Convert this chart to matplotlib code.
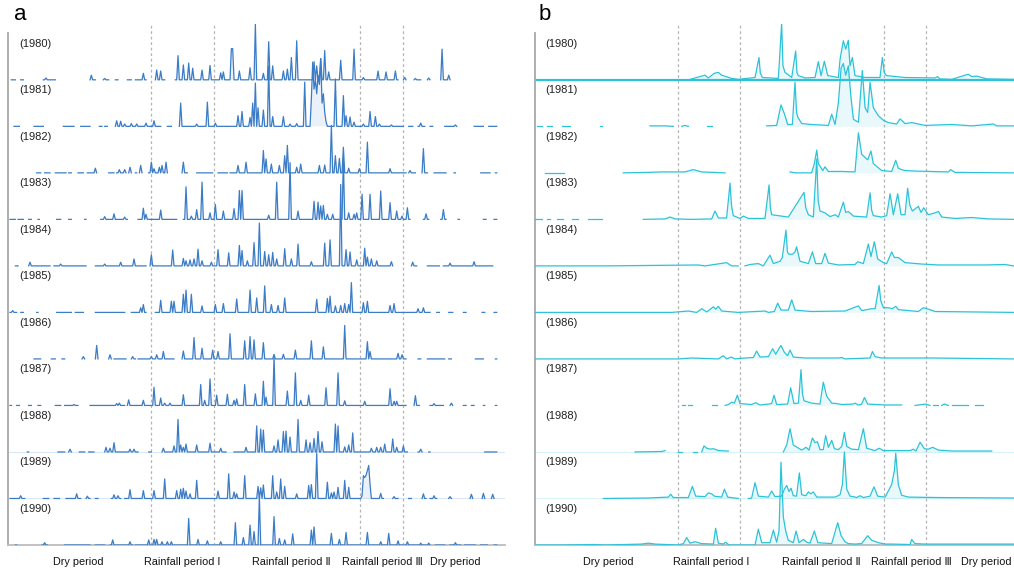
import numpy as np
import matplotlib.pyplot as plt

plt.rcParams['font.family'] = ['Liberation Sans', 'DejaVu Sans']

years = [1980, 1981, 1982, 1983, 1984, 1985, 1986, 1987, 1988, 1989, 1990]
period_names = ['Dry period', 'Rainfall period I', 'Rainfall period Ⅱ',
                'Rainfall period Ⅲ', 'Dry period']
period_bounds = [105.5, 153, 262.5, 294.5]   # day of year of the separators

# ---- panel a: daily rainfall, (start, end) of drawn stretches and (day, value) peaks
rain_wet_1980 = [(1, 4), (7.5, 10), (25, 34), (60, 64), (70, 74), (79, 81.5), (88, 91), (94, 102.5),
                 (108.5, 116), (123.5, 291), (295, 297.5), (302.5, 308.5), (312.5, 315), (322.5, 330)]
rain_peaks_1980 = [(27, 0.04), (61, 0.1), (71, 0.03), (100.5, 0.14), (110, 0.21), (113, 0.19), (125.5, 0.52),
                   (129.5, 0.32), (134, 0.36), (137, 0.25), (144, 0.21), (150.5, 0.31), (157.5, 0.15),
                   (160.5, 0.17), (166, 0.67), (167, 0.67), (172.5, 0.19), (180, 0.26), (184, 1.2),
                   (190, 0.14), (194, 0.82), (197, 0.3), (205, 0.19), (208, 0.23), (211, 0.48), (215, 0.84),
                   (227.5, 0.39), (230, 0.3), (233, 0.46), (235.5, 0.63), (239, 0.17), (247.5, 0.42),
                   (258, 0.66), (265, 0.05), (276, 0.19), (282.5, 0.17), (289, 0.19), (296, 0.05),
                   (304, 0.03), (314, 0.04), (324.5, 0.66), (329, 0.1)]

rain_wet_1981 = [(2.5, 7.5), (17.5, 25), (40, 48.5), (52.5, 60), (67, 69), (71, 73.5), (78.5, 113.5),
                 (117.5, 121), (127.5, 295), (298.5, 302.5), (306, 311), (315, 317.5), (326, 335),
                 (347.5, 355), (358.5, 365)]
rain_peaks_1981 = [(80, 0.12), (83, 0.11), (86, 0.05), (91, 0.06), (95, 0.05), (102.5, 0.07), (108, 0.12),
                   (128.5, 0.5), (140, 0.05), (147.5, 0.52), (153.5, 0.07), (171, 0.23), (173.5, 0.32),
                   (179.5, 0.19), (182, 0.5), (184, 0.93), (186, 0.4), (190.5, 0.35), (193.5, 1.3),
                   (197, 0.21), (205, 0.21), (210, 0.05), (215, 0.06), (221, 0.95), (226, 0.6), (227, 1.38),
                   (228, 0.8), (229, 1.0), (230, 0.7), (231, 1.1), (232, 0.9), (233, 1.45), (234, 0.5),
                   (235, 0.7), (236, 0.3), (237, 0.1), (244.5, 1.02), (249.5, 0.66), (252.5, 0.23),
                   (255, 0.2), (257.5, 0.09), (265, 0.05), (270.5, 0.32), (273.5, 0.21), (277, 0.05),
                   (286, 0.03), (308.5, 0.07), (333.5, 0.03)]

rain_wet_1982 = [(20, 23.5), (26, 30), (33.5, 42.5), (43.5, 46), (51, 55), (58, 65), (73.5, 78.5),
                 (80, 87.5), (89.5, 91), (94, 95.5), (97.5, 99.5), (103.5, 117.5), (128.5, 133),
                 (140, 152), (156, 163), (165, 297.5), (300, 304), (308.5, 313.5), (317.5, 327.5),
                 (332.5, 334), (352.5, 360), (364, 365.5)]
rain_peaks_1982 = [(63.5, 0.1), (82.5, 0.07), (86, 0.07), (90, 0.12), (98, 0.16), (105.5, 0.23),
                   (108, 0.09), (112, 0.12), (114.5, 0.16), (117, 0.23), (130, 0.23), (171, 0.16),
                   (177, 0.23), (190, 0.48), (192.5, 0.3), (195.5, 0.19), (202, 0.16), (206, 0.37),
                   (208.5, 0.59), (215, 0.12), (218.5, 0.19), (232.5, 0.16), (236, 0.17), (241, 1.02),
                   (243.5, 0.37), (247, 0.31), (250.5, 0.55), (253.5, 0.1), (262.5, 0.09), (268.5, 0.66),
                   (285, 0.09), (300, 0.05), (310, 0.52)]

rain_wet_1983 = [(0, 4), (6, 10), (14, 16), (20.5, 22.5), (34.5, 38), (44, 46), (55.5, 57.5), (67.5, 88.5),
                 (96, 125), (130, 300), (310, 314), (322.5, 327.5), (335.5, 337.5), (355, 357.5),
                 (362.5, 365)]
rain_peaks_1983 = [(71, 0.06), (78.5, 0.12), (86, 0.05), (99.5, 0.24), (102.5, 0.11), (113, 0.2),
                   (132.5, 0.7), (136, 0.07), (140.5, 0.21), (143.5, 0.8), (150.5, 0.14), (153.5, 0.32),
                   (160.5, 0.18), (168.5, 0.23), (172, 0.62), (174, 0.62), (193.5, 0.09), (199.5, 0.8),
                   (209.5, 1.22), (216, 0.18), (228.5, 0.39), (231, 0.37), (233, 0.29), (235, 0.3),
                   (238.5, 0.11), (242.5, 0.11), (249.5, 1.3), (253.5, 0.14), (257.5, 0.11), (260, 0.14),
                   (263.5, 0.54), (269.5, 0.54), (277.5, 0.61), (285, 0.36), (290, 0.18), (293.5, 0.07),
                   (298, 0.25), (312, 0.12), (325, 0.21)]

rain_wet_1984 = [(4, 6), (13.5, 30), (32.5, 57.5), (63.5, 102.5), (105, 287.5), (301, 305),
                 (312.5, 322.5), (325, 362.5)]
rain_peaks_1984 = [(15, 0.08), (37.5, 0.04), (71, 0.04), (83, 0.08), (93, 0.15), (106, 0.24),
                   (121.5, 0.34), (130.5, 0.16), (132.5, 0.11), (135, 0.13), (137.5, 0.15), (141, 0.36),
                   (143.5, 0.11), (151, 0.08), (156.5, 0.35), (164, 0.28), (172.5, 0.44), (174.5, 0.33),
                   (177.5, 0.11), (183, 0.5), (187, 0.92), (191, 0.31), (193.5, 0.24), (197, 0.29),
                   (200.5, 0.15), (206, 0.37), (211, 0.15), (215.5, 0.47), (226, 0.09), (236, 0.49),
                   (239.5, 0.56), (248, 1.75), (252.5, 0.35), (255, 0.3), (260, 0.13), (265.5, 0.38),
                   (268.5, 0.19), (271, 0.15), (275, 0.11), (286, 0.09), (302.5, 0.08), (330, 0.06),
                   (348.5, 0.09)]

rain_wet_1985 = [(0, 5), (8, 10), (19.5, 21.5), (35, 46), (48.5, 55), (63.5, 86), (91, 102.5),
                 (108.5, 315), (320, 322.5), (328.5, 332.5), (340, 342.5), (353.5, 356), (362.5, 365)]
rain_peaks_1985 = [(2.5, 0.04), (97.5, 0.1), (100.5, 0.17), (113, 0.26), (121, 0.24), (123, 0.24),
                   (129.5, 0.39), (132.5, 0.48), (135.5, 0.39), (144.5, 0.14), (154.5, 0.17),
                   (160.5, 0.19), (170.5, 0.29), (180.5, 0.48), (185, 0.31), (191, 0.57), (196, 0.17),
                   (201, 0.15), (206, 0.31), (230.5, 0.28), (238, 0.3), (240.5, 0.35), (243.5, 0.14),
                   (247.5, 0.15), (251, 0.19), (253.5, 0.17), (256.5, 0.64), (265, 0.21), (268.5, 0.24),
                   (285, 0.15), (288, 0.19), (306, 0.08), (310, 0.1)]

rain_wet_1986 = [(17.5, 23.5), (31, 34), (38.5, 41), (53.5, 56), (63.5, 66), (73.5, 76), (77.5, 87.5),
                 (91, 94), (96, 123.5), (128.5, 297.5), (306, 308.5), (312.5, 326), (328.5, 331),
                 (348.5, 355), (363.5, 365)]
rain_peaks_1986 = [(55, 0.05), (65, 0.29), (75, 0.09), (92.5, 0.05), (106, 0.05), (110, 0.09), (115, 0.16),
                   (130.5, 0.17), (138.5, 0.46), (143.5, 0.23), (152.5, 0.19), (156, 0.16), (165, 0.54),
                   (176, 0.39), (180.5, 0.48), (183, 0.41), (190, 0.35), (198, 0.1), (205, 0.1),
                   (213.5, 0.19), (226, 0.39), (235, 0.26), (251, 0.72), (267.5, 0.37), (270, 0.16),
                   (291, 0.12), (293.5, 0.09)]

rain_wet_1987 = [(0, 1.5), (5, 7.5), (13.5, 16), (21, 23.5), (33.5, 38.5), (41, 51), (60, 86),
                 (88.5, 297.5), (302.5, 307.5), (315, 325), (330, 332.5), (340, 342), (346, 348),
                 (354.5, 356.5), (363.5, 365)]
rain_peaks_1987 = [(47.5, 0.02), (79.5, 0.04), (82.5, 0.05), (89, 0.12), (100, 0.11), (108.5, 0.39),
                   (113, 0.16), (116, 0.05), (120, 0.05), (130.5, 0.23), (143, 0.45), (145.5, 0.11),
                   (150.5, 0.57), (155, 0.22), (163, 0.24), (168.5, 0.11), (170.5, 0.14), (176.5, 0.45),
                   (184.5, 0.25), (190, 0.52), (192.5, 0.18), (198, 1.05), (207.5, 0.31), (214, 0.7),
                   (217.5, 0.11), (223.5, 0.22), (237, 0.38), (245.5, 0.7), (251, 0.1), (266, 0.09),
                   (285, 0.36), (288.5, 0.09), (290.5, 0.09), (303.5, 0.21), (317.5, 0.04), (331, 0.05)]

rain_wet_1988 = [(12.5, 14.5), (36, 41), (44, 46), (52, 56), (58.5, 63.5), (71, 96), (104, 106),
                 (113.5, 162.5), (167.5, 298.5), (306, 308.5), (313.5, 315.5), (356, 365)]
rain_peaks_1988 = [(45, 0.06), (72.5, 0.1), (75, 0.08), (78.5, 0.2), (90, 0.06), (93, 0.06), (115, 0.08),
                   (123, 0.13), (125.5, 0.7), (127.5, 0.15), (130, 0.1), (132.5, 0.17), (140, 0.15),
                   (149.5, 0.19), (158.5, 0.08), (177, 0.1), (185, 0.56), (188, 0.49), (190, 0.47),
                   (198.5, 0.13), (201, 0.26), (205, 0.44), (207, 0.45), (209.5, 0.32), (216, 0.7),
                   (222, 0.26), (225, 0.2), (227.5, 0.29), (231, 0.44), (233.5, 0.22), (244.5, 0.6),
                   (246, 0.56), (251, 0.11), (253.5, 0.15), (257, 0.41), (271, 0.08), (275, 0.1),
                   (278.5, 0.1), (281, 0.17), (287, 0.28), (290, 0.1), (295, 0.13), (307.5, 0.06)]

rain_wet_1989 = [(0, 11), (24.5, 29.5), (33, 37), (42, 53.5), (57.5, 60.5), (63.5, 66), (76, 83.5),
                 (86, 88.5), (89.5, 280), (287.5, 291), (298.5, 301), (308.5, 312.5), (315, 320),
                 (328.5, 331), (345, 347.5), (353.5, 356), (361, 363.5)]
rain_peaks_1989 = [(7.5, 0.06), (50, 0.1), (58.5, 0.05), (78.5, 0.08), (81, 0.06), (90.5, 0.19),
                   (100, 0.17), (108.5, 0.17), (115.5, 0.42), (125, 0.17), (127.5, 0.2), (130, 0.22),
                   (132.5, 0.16), (135, 0.1), (139.5, 0.39), (156, 0.16), (163.5, 0.53), (167.5, 0.14),
                   (170.5, 0.1), (176, 0.49), (185.5, 0.26), (187.5, 0.23), (190.5, 0.29), (197, 0.49),
                   (199.5, 0.14), (203, 0.42), (206, 0.26), (215, 0.1), (223.5, 0.28), (226, 0.3),
                   (230, 0.97), (237.5, 0.35), (241, 0.12), (243, 0.14), (246, 0.24), (251, 0.39),
                   (253.5, 0.24), (263.5, 0.06), (265, 0.49), (266, 0.45), (267, 0.5), (268, 0.6),
                   (269, 0.71), (270, 0.3), (277.5, 0.11), (288.5, 0.04), (310.5, 0.1), (318.5, 0.06),
                   (330, 0.04), (346, 0.09), (355, 0.11), (362.5, 0.09)]

rain_wet_1990 = [(3.5, 5.5), (23.5, 28.5), (41, 60), (63.5, 71), (75, 92.5), (93.5, 306), (307.5, 315),
                 (318.5, 326), (330, 338.5), (341, 349), (352.5, 358.5), (362.5, 365)]
rain_peaks_1990 = [(26, 0.05), (77, 0.11), (90, 0.07), (103.5, 0.11), (107.5, 0.12), (110.5, 0.12),
                   (113.5, 0.07), (117.5, 0.07), (121, 0.07), (133.5, 0.57), (141, 0.12), (148, 0.09),
                   (157.5, 0.07), (169, 0.48), (175, 0.16), (180, 0.43), (183, 0.29), (187, 1.05),
                   (198, 0.61), (202.5, 0.14), (206, 0.11), (212, 0.24), (225.5, 0.32), (228, 0.39),
                   (241, 0.25), (247, 0.12), (252.5, 0.27), (267.5, 0.27), (277.5, 0.07), (283.5, 0.25),
                   (291, 0.09), (297.5, 0.07), (308.5, 0.04), (313.5, 0.04), (333.5, 0.05)]

# ---- panel b: discharge, stretches of (day, value) readings
flow_1980 = [[(-3.7, 0), (113.4, 0), (116, 0.02), (126.1, 0.1), (128.6, 0.04), (133.2, 0.14), (136.3, 0.16),
              (138.8, 0.1), (146.5, 0.03), (151.5, 0.01), (164.3, 0.05), (167.3, 0.48), (168.3, 0.15),
              (169.9, 0.05), (182.1, 0.03), (184.6, 1.21), (185.6, 0.3), (187.2, 0.16), (192.3, 0.05),
              (195.3, 0.62), (196.3, 0.15), (197.4, 0.09), (202.5, 0.04), (210.1, 0.05), (212.6, 0.39),
              (214.7, 0.09), (217.2, 0.4), (219.8, 0.09), (227.9, 0.05), (229.2, 0.44), (231.7, 0.84),
              (233.5, 0.66), (235.5, 0.85), (236.8, 0.3), (238.6, 0.48), (240.6, 0.09), (248.3, 0.05),
              (259.7, 0.05), (261.5, 0.48), (263, 0.15), (264.8, 0.09), (278.8, 0.05), (301.7, 0.04),
              (303.5, 0.07), (305.5, 0.02), (314.4, 0.01), (327.1, 0.12), (329.7, 0.07), (333.5, 0.08),
              (341.2, 0.02), (361.5, 0.01)]]

flow_1981 = [[(-2.4, 0), (1.4, 0)], [(5.2, 0), (9, 0)], [(16.7, 0), (23, 0)], [(45.9, 0), (47.2, 0)],
             [(84.1, 0.01), (95.9, 0.01), (101.9, 0)], [(108.3, 0), (110.5, 0.02), (113.4, 0)],
             [(127.4, 0), (131.2, 0)],
             [(173.2, 0.01), (180.8, 0.02), (184.1, 0.46), (186.7, 0.27), (189.2, 0.04), (192.8, 0.04),
              (194.8, 0.95), (196, 0.3), (196.9, 0.2), (199.9, 0.06), (207.5, 0.04), (220.3, 0.02),
              (222.8, 0.26), (225.4, 0.04), (227.9, 0.5), (230, 1.25), (231.7, 1.35), (233.5, 1.1),
              (235.5, 1.3), (237.6, 0.6), (239.4, 0.15), (243.2, 0.09), (246.2, 1.2), (248.3, 0.4),
              (250.3, 0.3), (252.1, 0.95), (254.6, 0.4), (258.4, 0.23), (262.3, 0.13), (266.1, 0.08),
              (272.4, 0.05), (275, 0.16), (278.8, 0.06), (283.9, 0.08), (294.1, 0.02), (314.4, 0.04),
              (329.7, 0.01), (346.2, 0.05), (348.8, 0.01), (361.5, 0.01)]]

flow_1982 = [[(3.9, 0), (18.7, 0)],
             [(63.7, 0), (82.8, 0.01), (92.9, 0.02), (110.8, 0.02), (117.2, 0.07), (123.6, 0.02),
              (141.4, 0)],
             [(191, 0.02), (194.8, 0), (207.5, 0), (209.6, 0.2), (211.4, 0.49), (212.6, 0.2),
              (216, 0.05), (217.7, 0.13), (220.3, 0.03), (230.5, 0.03), (240.6, 0.02), (243.2, 0.86),
              (245.7, 0.4), (248.3, 0.33), (250.3, 0.28), (252.8, 0.47), (254.6, 0.2), (261, 0.05),
              (268.6, 0.03), (271.7, 0.27), (273.7, 0.1), (276.2, 0.07), (278.8, 0.05), (285.2, 0.04),
              (311.9, 0.02), (313.6, 0.07), (317, 0.01), (361.5, 0)]]

flow_1983 = [[(-3.7, 0), (1.4, 0)], [(5.2, 0), (7.8, 0)], [(12.9, 0), (18, 0)], [(24.3, 0), (29.4, 0)],
             [(37, 0), (47.2, 0)],
             [(79, 0), (95.6, 0.01), (99.4, 0.05), (103.2, 0.01), (115.9, 0), (131.2, 0.01),
              (133.7, 0.18), (136.3, 0.03), (142.6, 0.03), (145.2, 0.78), (146.3, 0.3), (147.7, 0.08),
              (152.8, 0.02), (155.4, 0.07), (159.2, 0.02), (171.9, 0.02), (175, 0.74), (176, 0.25),
              (177, 0.1), (189.7, 0.05), (201.7, 0.58), (203, 0.25), (205, 0.1), (208.8, 0.05),
              (211.4, 1.3), (212.5, 0.4), (213.9, 0.18), (217.7, 0.14), (221.5, 0.06), (225.4, 0.1),
              (227.9, 0.05), (231.7, 0.37), (233.5, 0.15), (235.5, 0.17), (239.4, 0.07), (249.5, 0.05),
              (252.1, 0.57), (253.3, 0.2), (254.6, 0.08), (261, 0.05), (264.8, 0.08), (267.4, 0.55),
              (269.9, 0.1), (273.2, 0.55), (275.8, 0.1), (278.8, 0.1), (280.8, 0.67), (282.5, 0.3),
              (284.4, 0.18), (289, 0.28), (291, 0.15), (293.1, 0.25), (296.6, 0.1), (301.7, 0.14),
              (304.3, 0.17), (306.8, 0.05), (317, 0.02), (329.7, 0.04), (342.4, 0.01), (361.5, 0)]]

flow_1984 = [[(-3.7, 0), (49.7, 0), (121, 0.02), (126.1, 0), (142.6, 0.07), (146.5, 0), (151.5, 0)],
             [(156.6, 0), (160.5, 0.03), (166.8, 0.05), (170.6, 0), (175.7, 0.23), (178.3, 0.05),
              (183.4, 0.1), (185.1, 0.18), (187.9, 0.77), (189, 0.3), (190.2, 0.25), (192.8, 0.25),
              (194.8, 0.3), (196, 0.41), (198.6, 0.1), (205, 0.05), (208.1, 0.3), (210.6, 0.05),
              (215.2, 0.05), (217.7, 0.27), (220.3, 0.06), (227.9, 0.02), (240.6, 0.03), (242.7, 0.09),
              (247, 0.05), (250.8, 0.47), (252.8, 0.2), (255.4, 0.52), (257.9, 0.15), (262.3, 0.07),
              (264.8, 0.05), (268.6, 0.3), (270.7, 0.18), (273.7, 0.18), (278.8, 0.07), (291.5, 0.04),
              (304.3, 0.02), (339.9, 0.02), (355.1, 0.03), (361.5, 0)]]

flow_1985 = [[(-3.7, 0), (100.7, 0), (113.4, 0.03), (119.7, 0), (123.6, 0.08), (127.4, 0.01),
              (132.5, 0.12), (134.2, 0.07), (136.3, 0.13), (138.8, 0.03), (151.5, 0), (171.9, 0.03),
              (174.5, 0), (179, 0.02), (181.6, 0.2), (184.1, 0.05), (189.7, 0.05), (192.3, 0.27),
              (194.8, 0.05), (202.5, 0.03), (207.5, 0.02), (233, 0.03), (243.2, 0.14), (245.7, 0.04),
              (253.4, 0.08), (256, 0.08), (259, 0.58), (260.3, 0.25), (262.3, 0.1), (266.1, 0.1),
              (269.1, 0.08), (271.7, 0.13), (273.7, 0.06), (289, 0.02), (292.8, 0.1), (296.6, 0.07),
              (301.7, 0.02), (361.5, 0)]]

flow_1986 = [[(-3.7, 0), (105.7, 0), (115.9, 0.02), (136.3, 0), (140.1, 0.07), (142.6, 0), (146, 0.04),
              (149, 0), (156.6, 0.02), (163, 0.03), (165.5, 0.17), (168.1, 0.04), (174.5, 0.05),
              (177.8, 0.22), (180.1, 0.1), (182.1, 0.2), (184.1, 0.29), (186.7, 0.14), (189.2, 0.07),
              (191, 0.19), (193.5, 0.04), (202.5, 0.02), (227.9, 0.02), (230.5, 0.03), (233, 0),
              (252.1, 0.02), (253.9, 0.16), (255.9, 0.05), (261, 0.02), (271.2, 0.02), (299.2, 0.02),
              (361.5, 0)]]

flow_1987 = [[(108.3, 0), (110.8, 0)], [(113.4, 0), (116, 0)], [(131.2, 0), (135, 0)],
             [(141.4, 0), (143.9, 0.02), (146.5, 0.07), (148.5, 0.05), (150.8, 0.22), (152.8, 0.04),
              (161.7, 0.02), (164.8, 0.06), (168.1, 0.01), (174.5, 0.03), (177, 0.04), (178.8, 0.22),
              (180.8, 0.02), (189.2, 0.03), (191.5, 0.38), (194, 0.04), (197.4, 0.05), (199.4, 0.77),
              (200.5, 0.25), (201.7, 0.1), (207.5, 0.05), (213.9, 0.03), (216.4, 0.5), (219, 0.2),
              (222.8, 0.05), (226.6, 0.04), (230.5, 0.02), (239.4, 0.03), (240.6, 0.05), (243.2, 0.01),
              (245.7, 0.03), (247.8, 0.17), (250.3, 0.03), (263.6, 0.01), (276.2, 0.01)],
             [(286.4, 0), (294.6, 0.03), (297.9, 0)], [(300.4, 0), (304.3, 0)],
             [(306.8, 0), (308.8, 0.03), (311.9, 0)], [(314.4, 0), (327.1, 0)], [(332.2, 0), (338.6, 0)]]

flow_1988 = [[(72.7, 0), (93, 0.01), (95.6, 0.03)], [(105.7, 0), (108.3, 0)], [(117.2, 0), (119.7, 0)],
             [(123.6, 0), (125.3, 0.13), (127.4, 0.08), (130, 0.06), (132.5, 0.07), (136.3, 0.03),
              (143.9, 0.02)],
             [(185.9, 0), (188.5, 0.15), (191, 0.5), (193.5, 0.15), (199.9, 0.04), (203.2, 0.1),
              (205.5, 0.04), (208.1, 0.3), (210.1, 0.2), (211.9, 0.22), (213.9, 0.05), (216.4, 0.05),
              (218.2, 0.35), (220.3, 0.1), (222.8, 0.25), (224.9, 0.07), (227.9, 0.05), (230.5, 0.12),
              (232.5, 0.42), (234.3, 0.12), (238.1, 0.06), (243.2, 0.05), (247, 0.5), (249.5, 0.08),
              (255.9, 0.03), (259, 0.08), (262.3, 0.03), (282.6, 0.03), (285.2, 0.06), (287.2, 0.02),
              (290.3, 0.21), (293.6, 0.07), (296.6, 0.06), (299.9, 0.1), (304.3, 0.04), (314.4, 0.02),
              (345, 0.02)]]

flow_1989 = [[(48.5, 0), (82.8, 0.01), (98.1, 0.03), (99.9, 0.09), (101.9, 0.02), (113.4, 0.02),
              (116.4, 0.26), (119, 0.05), (126.1, 0.04), (128.6, 0.12), (131.2, 0.1), (133.2, 0.05),
              (138.8, 0.03), (140.9, 0.2), (143.4, 0.03), (151.5, 0)],
             [(159.2, 0), (161.7, 0.01), (164.3, 0.34), (166.8, 0.05), (174.5, 0.03), (177, 0.16),
              (179.5, 0.04), (184.6, 0.05), (186.7, 0.2), (188.5, 0.28), (190.2, 0.15), (191.8, 0.22),
              (193.5, 0.06), (196, 0.05), (198.1, 0.55), (199.9, 0.08), (203, 0.06), (205, 0.14),
              (206.8, 0.1), (208.8, 0.14), (211.4, 0.03), (225.4, 0.03), (229.2, 0.08), (231, 0.3),
              (232.5, 1.0), (234.3, 0.2), (236.8, 0.05), (239.4, 0.04), (241.9, 0.02), (244.5, 0.06),
              (247, 0.02), (252.1, 0.05), (255.1, 0.25), (257.9, 0.05), (263.6, 0.03), (268.6, 0.3),
              (270.7, 0.6), (271.7, 0.97), (273.7, 0.3), (276.2, 0.07), (281.3, 0.03), (304.3, 0.02),
              (361.5, 0.01)]]

flow_1990 = [[(-3.7, 0), (16.7, 0), (42.1, 0.01), (49.7, 0), (77.7, 0.02), (82.8, 0.04), (87.9, 0.02),
              (105.7, 0), (109.6, 0.03), (112.1, 0.16), (114.6, 0.04), (118.5, 0.07), (123.6, 0.03),
              (132.5, 0.02), (134.2, 0.36), (136.3, 0.04), (140.1, 0.02), (141.9, 0.06), (144.4, 0),
              (164.3, 0), (166.8, 0.34), (169.4, 0.05), (175.7, 0.05), (178.3, 0.32), (180.8, 0.06),
              (182.6, 0.3), (184.1, 1.78), (185.9, 0.6), (187.7, 0.3), (189.7, 0.1), (193.5, 0.05),
              (195.6, 0.3), (197.9, 0.05), (201.2, 0.12), (203.7, 0.06), (206.3, 0.04), (209.6, 0.3),
              (212.2, 0.05), (222.8, 0.03), (225.4, 0.28), (227.4, 0.48), (230, 0.2), (233, 0.07),
              (235.5, 0.03), (240.6, 0.02), (245.7, 0.03), (250.3, 0.2), (253.4, 0.1), (258.5, 0.05),
              (263.6, 0.02), (268.6, 0.02), (282.6, 0.01), (283.9, 0.12), (286.4, 0.03), (294.1, 0.02),
              (361.5, 0.02)]]

rain_wet = [rain_wet_1980, rain_wet_1981, rain_wet_1982, rain_wet_1983, rain_wet_1984, rain_wet_1985,
            rain_wet_1986, rain_wet_1987, rain_wet_1988, rain_wet_1989, rain_wet_1990]
rain_peaks = [rain_peaks_1980, rain_peaks_1981, rain_peaks_1982, rain_peaks_1983, rain_peaks_1984,
              rain_peaks_1985, rain_peaks_1986, rain_peaks_1987, rain_peaks_1988, rain_peaks_1989,
              rain_peaks_1990]
flows = [flow_1980, flow_1981, flow_1982, flow_1983, flow_1984, flow_1985, flow_1986, flow_1987,
         flow_1988, flow_1989, flow_1990]

days = np.arange(0, 366)


def rain_series(wet, peaks):
    v = np.full(days.size, np.nan)
    for s, e in wet:
        v[int(np.ceil(s)):int(np.floor(e)) + 1] = 0.0
    for d, h in peaks:
        i = int(round(d))
        for j in (i - 1, i + 1):
            if 0 <= j < v.size and np.isnan(v[j]):
                v[j] = 0.0
        v[i] = h if np.isnan(v[i]) else max(v[i], h)
    return v


blue = '#3b7cc6'
cyan = '#2cc3d9'
grid_col = '#b4b4b4'

fig = plt.figure(figsize=(10.14, 5.72), dpi=100)
ax_a = fig.add_axes([8 / 1014, 27 / 572, 497 / 1014, 521 / 572])
ax_b = fig.add_axes([535 / 1014, 27 / 572, 479 / 1014, 521 / 572])

n = len(years)
for ax, xlim, col in [(ax_a, (-1.5, 371.2), blue), (ax_b, (-3.7, 362), cyan)]:
    ax.set_xlim(*xlim)
    ax.set_ylim(0, 11.2)
    for b in period_bounds:
        ax.axvline(b, color=grid_col, lw=0.9, ls=(0, (2.2, 2.2)), zorder=0)
    for sp in ['top', 'right']:
        ax.spines[sp].set_visible(False)
    ax.spines['left'].set_bounds(0, 11.0)
    ax.spines['left'].set_color('#a8a8a8')
    ax.spines['left'].set_linewidth(1.3)
    ax.spines['bottom'].set_color('#bdbdbd')
    ax.spines['bottom'].set_linewidth(1.3)
    ax.set_xticks([])
    ax.set_yticks([])
    ax.patch.set_alpha(0)
    for i, yr in enumerate(years):
        base = n - 1 - i
        ax.text(0.022, base + 0.78, f'({yr})', transform=ax.get_yaxis_transform(),
                fontsize=8, va='center', ha='left', color='#222222')
        if yr in (1988, 1989):
            ax.axhline(base, color=col, lw=0.8, alpha=0.18, zorder=1)

# rainfall rows
for i, yr in enumerate(years):
    base = n - 1 - i
    v = rain_series(rain_wet[i], rain_peaks[i])
    ax_a.fill_between(days, base, base + v, where=~np.isnan(v), color=blue, alpha=0.1, lw=0, zorder=2 + i)
    ax_a.plot(days, base + v, color=blue, lw=0.9, zorder=2 + i)

# discharge rows
ax_b.axhline(n - 1, color=cyan, lw=1.6, zorder=2)
for i, yr in enumerate(years):
    base = n - 1 - i
    for seg in flows[i]:
        arr = np.array(seg)
        ax_b.fill_between(arr[:, 0], base, base + arr[:, 1], color=cyan, alpha=0.1, lw=0, zorder=2 + i)
        ax_b.plot(arr[:, 0], base + arr[:, 1], color=cyan, lw=0.9, zorder=2 + i)

# period names under each panel
for ax, xs in [(ax_a, [51, 129, 211, 279, 334]), (ax_b, [52, 131, 215, 284, 341])]:
    for x, name in zip(xs, period_names):
        ax.text(x, -0.033, name, transform=ax.get_xaxis_transform(), fontsize=7.8,
                ha='center', va='center', color='#111111')

fig.text(20 / 1014, 1 - 14 / 572, 'a', fontsize=16, ha='center', va='center')
fig.text(545 / 1014, 1 - 14 / 572, 'b', fontsize=16, ha='center', va='center')

fig.savefig('out.png', dpi=100)
